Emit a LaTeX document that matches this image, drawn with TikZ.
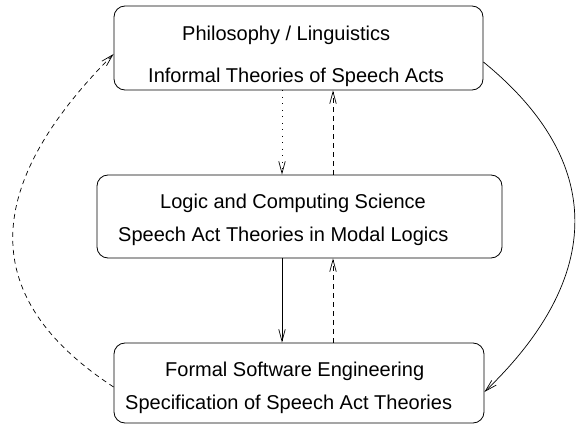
\documentclass[tikz,border=0pt]{standalone}
\usepackage{fontspec}
\setmainfont{Liberation Sans}
\usetikzlibrary{arrows.meta}
\begin{document}
\begin{tikzpicture}[x=1pt,y=-1pt,
  box/.style={draw, rounded corners=11pt, line width=0.8pt, inner sep=0pt},
  lbl/.style={anchor=base west, inner sep=0pt, font=\fontsize{20}{24}\selectfont},
  link/.style={line width=0.7pt, -{Straight Barb[length=12pt,width=6.5pt]}},
  dotlink/.style={link, dash pattern=on 1pt off 5.5pt},
  dashlink/.style={link, dash pattern=on 5pt off 4pt}]
\useasboundingbox (0,0) rectangle (576,425);

% the three layers
\node[box, minimum width=369pt, minimum height=84pt] (phil) at (298.5,48) {};
\node[box, minimum width=405pt, minimum height=83pt] (logic) at (299.5,216.5) {};
\node[box, minimum width=370pt, minimum height=80pt] (soft) at (299,383) {};

% their labels
\node[lbl] (phil1) at (182,41) {Philosophy / Linguistics};
\node[lbl] (phil2) at (148,83) {Informal Theories of Speech Acts};
\node[lbl] (logic1) at (160,208) {Logic and Computing Science};
\node[lbl] (logic2) at (118,241) {Speech Act Theories in Modal Logics};
\node[lbl] (soft1) at (165,376) {Formal Software Engineering};
\node[lbl] (soft2) at (125,409) {Specification of Speech Act Theories};

% columns of the vertical links
\coordinate (cl) at (282,0);
\coordinate (cr) at (333,0);

\draw[dotlink] (phil.south -| cl) -- (logic.north -| cl);
\draw[dashlink] (logic.north -| cr) -- (phil.south -| cr);
\draw[link] (logic.south -| cl) -- (soft.north -| cl);
\draw[dashlink] (soft.north -| cr) -- (logic.south -| cr);

% outer feedback loops
\draw[dashlink] ([yshift=-4pt]soft.west) .. controls (-20.7,299) and (-20.7,189) .. ([yshift=-6pt]phil.west);
\draw[link] ([yshift=-14pt]phil.east) .. controls (605,161) and (605,276) .. ([yshift=-9pt]soft.east);
\end{tikzpicture}
\end{document}
